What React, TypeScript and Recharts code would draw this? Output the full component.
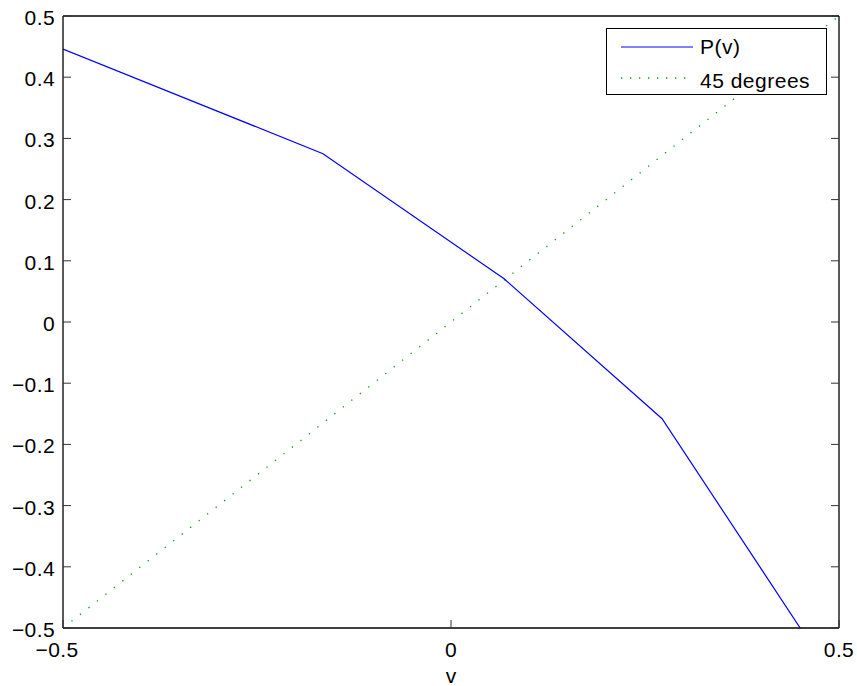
import React from 'react';
import { LineChart, Line, XAxis, YAxis } from 'recharts';

// axis ticks
const vTicks = [-0.5, 0, 0.5];
const pTicks = [-0.5, -0.4, -0.3, -0.2, -0.1, 0, 0.1, 0.2, 0.3, 0.4, 0.5];

// P(v) curve
const curveV = [-0.5, -0.165, 0.068, 0.272, 0.45];
const curveP = [0.446, 0.275, 0.071, -0.158, -0.5];

// 45 degree reference line
const diagV = [-0.5, 0.5];
const diagP = [-0.5, 0.5];

const curveData = curveV.map((v, i) => ({ v, p: curveP[i] }));
const diagData = diagV.map((v, i) => ({ v, p: diagP[i] }));

const FONT = '"Liberation Sans", Arial, Helvetica, sans-serif';
const FS = 21;
const TICK_LEN = 8;
const GREEN = '#00a000';

const fmt = (n: number) => {
  if (Math.abs(n) < 1e-9) return '0';
  const s = n.toFixed(1);
  return s.replace('-', '\u2212');
};

const LeftTick = (props: any) => {
  const { x, y, payload } = props;
  return (
    <g>
      <line x1={x} x2={x + TICK_LEN} y1={y} y2={y} stroke="#333" strokeWidth={1} />
      <text x={x - 8} y={y} dy="0.43em" textAnchor="end" fontSize={FS} letterSpacing={0.4} fill="#000" fontFamily={FONT}>
        {fmt(payload.value)}
      </text>
    </g>
  );
};

const RightTick = (props: any) => {
  const { x, y } = props;
  return <line x1={x} x2={x - TICK_LEN} y1={y} y2={y} stroke="#333" strokeWidth={1} />;
};

const BottomTick = (props: any) => {
  const { x, y, payload } = props;
  const neg = payload.value < 0;
  return (
    <g>
      <line x1={x} x2={x} y1={y} y2={y - TICK_LEN} stroke="#333" strokeWidth={1} />
      <text x={x} y={y + 29} dx={neg ? -6 : 0} textAnchor="middle" fontSize={FS} letterSpacing={0.4} fill="#000" fontFamily={FONT}>
        {fmt(payload.value)}
      </text>
    </g>
  );
};

const TopTick = (props: any) => {
  const { x, y } = props;
  return <line x1={x} x2={x} y1={y} y2={y + TICK_LEN} stroke="#333" strokeWidth={1} />;
};

const LegendBox = () => (
  <div
    style={{
      position: 'absolute',
      left: 606,
      top: 28,
      width: 219,
      height: 65,
      border: '1px solid #000',
      background: '#fff',
    }}
  >
    <svg width={219} height={65} style={{ position: 'absolute', left: 0, top: 0 }}>
      <line x1={14} x2={86} y1={18} y2={18} stroke="#0000ff" strokeWidth={1.2} />
      <line x1={14} x2={86} y1={49} y2={49} stroke={GREEN} strokeWidth={1.3} strokeDasharray="1.3 7.7" />
      <text x={93} y={25} fontSize={FS} letterSpacing={0.5} fontFamily={FONT} fill="#000">P(v)</text>
      <text x={93} y={59} fontSize={FS} letterSpacing={0.5} fontFamily={FONT} fill="#000">45 degrees</text>
    </svg>
  </div>
);

export default function App() {
  return (
    <div style={{ position: 'absolute', left: 0, top: 0, width: 857, height: 686, background: '#fff' }}>
      <LineChart width={857} height={686} margin={{ top: 0, right: 0, bottom: 0, left: 0 }}>
        <XAxis
          dataKey="v"
          type="number"
          domain={[-0.5, 0.5]}
          ticks={vTicks}
          height={58}
          tickSize={0}
          tickMargin={0}
          tickLine={false}
          axisLine={{ stroke: '#000', strokeWidth: 1.3 }}
          tick={<BottomTick />}
          interval={0}
          allowDataOverflow
          label={{ value: 'v', position: 'insideBottom', offset: 3, fontSize: FS, fill: '#000', fontFamily: FONT }}
        />
        <XAxis
          xAxisId="top"
          orientation="top"
          type="number"
          domain={[-0.5, 0.5]}
          ticks={vTicks}
          height={16}
          tickSize={0}
          tickMargin={0}
          tickLine={false}
          axisLine={{ stroke: '#000', strokeWidth: 1.3 }}
          tick={<TopTick />}
          interval={0}
          allowDataOverflow
        />
        <YAxis
          type="number"
          domain={[-0.5, 0.5]}
          ticks={pTicks}
          width={63}
          tickSize={0}
          tickMargin={0}
          tickLine={false}
          axisLine={{ stroke: '#000', strokeWidth: 1.3 }}
          tick={<LeftTick />}
          interval={0}
          allowDataOverflow
        />
        <YAxis
          yAxisId="right"
          orientation="right"
          type="number"
          domain={[-0.5, 0.5]}
          ticks={pTicks}
          width={18}
          tickSize={0}
          tickMargin={0}
          tickLine={false}
          axisLine={{ stroke: '#000', strokeWidth: 1.3 }}
          tick={<RightTick />}
          interval={0}
          allowDataOverflow
        />
        <Line
          data={diagData}
          dataKey="p"
          name="45 degrees"
          stroke={GREEN}
          strokeWidth={1.3}
          strokeDasharray="1.3 9.5"
          dot={false}
          activeDot={false}
          isAnimationActive={false}
        />
        <Line
          data={curveData}
          dataKey="p"
          name="P(v)"
          stroke="#0000ff"
          strokeWidth={1.2}
          dot={false}
          activeDot={false}
          isAnimationActive={false}
        />
      </LineChart>
      <LegendBox />
    </div>
  );
}
